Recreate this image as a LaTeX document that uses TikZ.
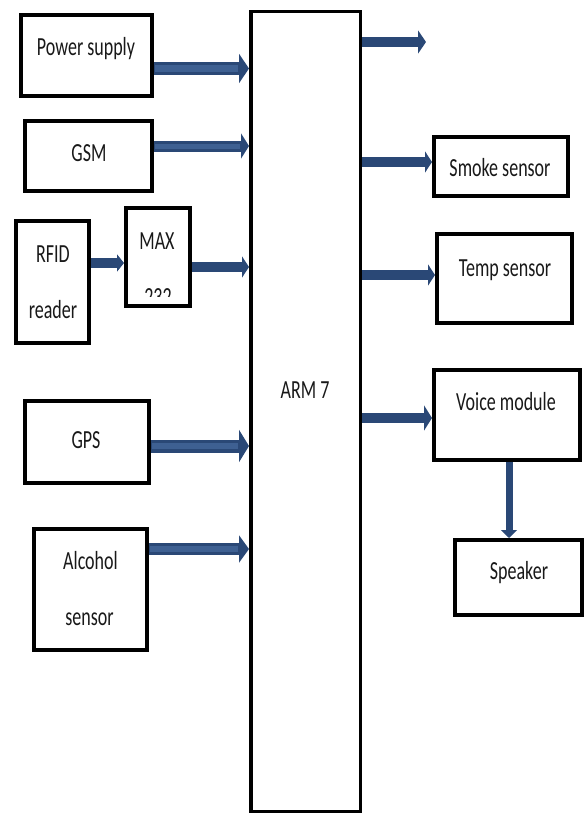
\documentclass[tikz,border=0pt]{standalone}
\usepackage{fontspec}
\setmainfont{Carlito}
\usetikzlibrary{arrows.meta}
\definecolor{arrc}{RGB}{42,72,118}
\definecolor{arrhi}{RGB}{62,96,146}
\definecolor{txtc}{RGB}{25,25,25}
\newcommand{\tl}[1]{\scalebox{1}[1.45]{#1}}
\tikzset{
  box/.style={draw=black, line width=4pt, fill=white, inner sep=0pt},
  lbl/.style={font=\fontsize{18}{20}\selectfont, text=txtc, inner sep=0pt, text height=17pt, text depth=0pt},
  arrbig/.style={draw=arrc, line width=12pt, -{Triangle[width=29pt,length=10pt]}},
  arrmid/.style={draw=arrc, line width=11pt, -{Triangle[width=25pt,length=8pt]}},
  arrsm/.style={draw=arrc, line width=9.5pt, -{Triangle[width=21pt,length=7pt]}},
  hilite/.style={draw=arrhi, line width=6pt, shorten >=11pt, shorten <=1pt},
}
\begin{document}
\begin{tikzpicture}[x=1pt,y=-1pt]
\useasboundingbox[fill=white] (0,0) rectangle (585,816);

% main controller
\node[box, line width=3.5pt, minimum width=109.5pt, minimum height=799.5pt] (arm) at (305.5,411.5) {};
\node[lbl] (armt) at (305,390) {\tl{ARM 7}};

% left boxes
\node[box, minimum width=131pt, minimum height=81pt] (ps) at (86.5,55.5) {};
\node[lbl] (pst) at (86,47) {\tl{Power supply}};

\node[box, minimum width=127pt, minimum height=70pt] (gsm) at (88.5,156) {};
\node[lbl] (gsmt) at (89,152.5) {\tl{GSM}};

\node[box, minimum width=73pt, minimum height=122pt] (rfid) at (52.5,282) {};
\node[lbl] (rfidt1) at (53,254) {\tl{RFID}};
\node[lbl] (rfidt2) at (53,310) {\tl{reader}};

\node[box, minimum width=64pt, minimum height=98pt] (max) at (158,257) {};
\node[lbl] (maxt) at (157,241) {\tl{MAX}};
\begin{scope}
  \clip (128,287) rectangle (188,296);
  \node[lbl] (maxn) at (158,297) {\tl{232}};
\end{scope}

\node[box, minimum width=124pt, minimum height=82pt] (gps) at (87,442) {};
\node[lbl] (gpst) at (86,440) {\tl{GPS}};

\node[box, minimum width=113pt, minimum height=121pt] (alc) at (90.5,589.5) {};
\node[lbl] (alct1) at (90.5,561) {\tl{Alcohol}};
\node[lbl] (alct2) at (89.5,617) {\tl{sensor}};

% right boxes
\node[box, minimum width=134pt, minimum height=59pt] (smoke) at (501,166.5) {};
\node[lbl] (smoket) at (500,168) {\tl{Smoke sensor}};

\node[box, minimum width=135pt, minimum height=89pt] (temp) at (504.5,278.5) {};
\node[lbl] (tempt) at (505,268) {\tl{Temp sensor}};

\node[box, minimum width=146pt, minimum height=90pt] (voice) at (507,415) {};
\node[lbl] (voicet) at (506,402) {\tl{Voice module}};

\node[box, minimum width=127pt, minimum height=75pt] (spk) at (518.5,577.5) {};
\node[lbl] (spkt) at (519,571) {\tl{Speaker}};

\coordinate (out1) at (426,42);

% connectors into ARM 7
\draw[arrbig] ([yshift=-13pt]ps.east) -- ([yshift=-13pt]ps.east -| arm.west);
\draw[hilite] ([yshift=-13pt]ps.east) -- ([yshift=-13pt]ps.east -| arm.west);
\draw[arrmid] ([yshift=10pt]gsm.east) -- ([yshift=10pt]gsm.east -| arm.west);
\draw[hilite, line width=5pt, shorten >=9pt] ([yshift=10pt]gsm.east) -- ([yshift=10pt]gsm.east -| arm.west);
\draw[arrsm, -{Triangle[width=17pt,length=7pt]}] ([yshift=19pt]rfid.east) -- ([yshift=19pt]rfid.east -| max.west);
\draw[arrsm] ([yshift=-10pt]max.east) -- ([yshift=-10pt]max.east -| arm.west);
\draw[arrbig, line width=13pt, -{Triangle[width=32pt,length=10pt]}] ([yshift=-4pt]gps.east) -- ([yshift=-4pt]gps.east -| arm.west);
\draw[hilite] ([yshift=-4pt]gps.east) -- ([yshift=-4pt]gps.east -| arm.west);
\draw[arrmid, line width=11.5pt, -{Triangle[width=27pt,length=10pt]}] ([yshift=40.5pt]alc.east) -- ([yshift=40.5pt]alc.east -| arm.west);
\draw[hilite] ([yshift=40.5pt]alc.east) -- ([yshift=40.5pt]alc.east -| arm.west);

% connectors out of ARM 7
\draw[arrsm, -{Triangle[width=23pt,length=8pt]}] (arm.east |- out1) -- (out1);
\draw[arrsm] ([yshift=4.5pt]smoke.west -| arm.east) -- ([yshift=4.5pt]smoke.west);
\draw[arrsm] ([yshift=3.5pt]temp.west -| arm.east) -- ([yshift=3.5pt]temp.west);
\draw[arrsm, -{Triangle[width=25pt,length=8pt]}] ([yshift=-3pt]voice.west -| arm.east) -- ([yshift=-3pt]voice.west);
\draw[arrc, line width=7pt, -{Triangle[width=16pt,length=8pt]}] ([xshift=2pt]voice.south) -- ([xshift=2pt]voice.south |- spk.north);
\end{tikzpicture}
\end{document}
